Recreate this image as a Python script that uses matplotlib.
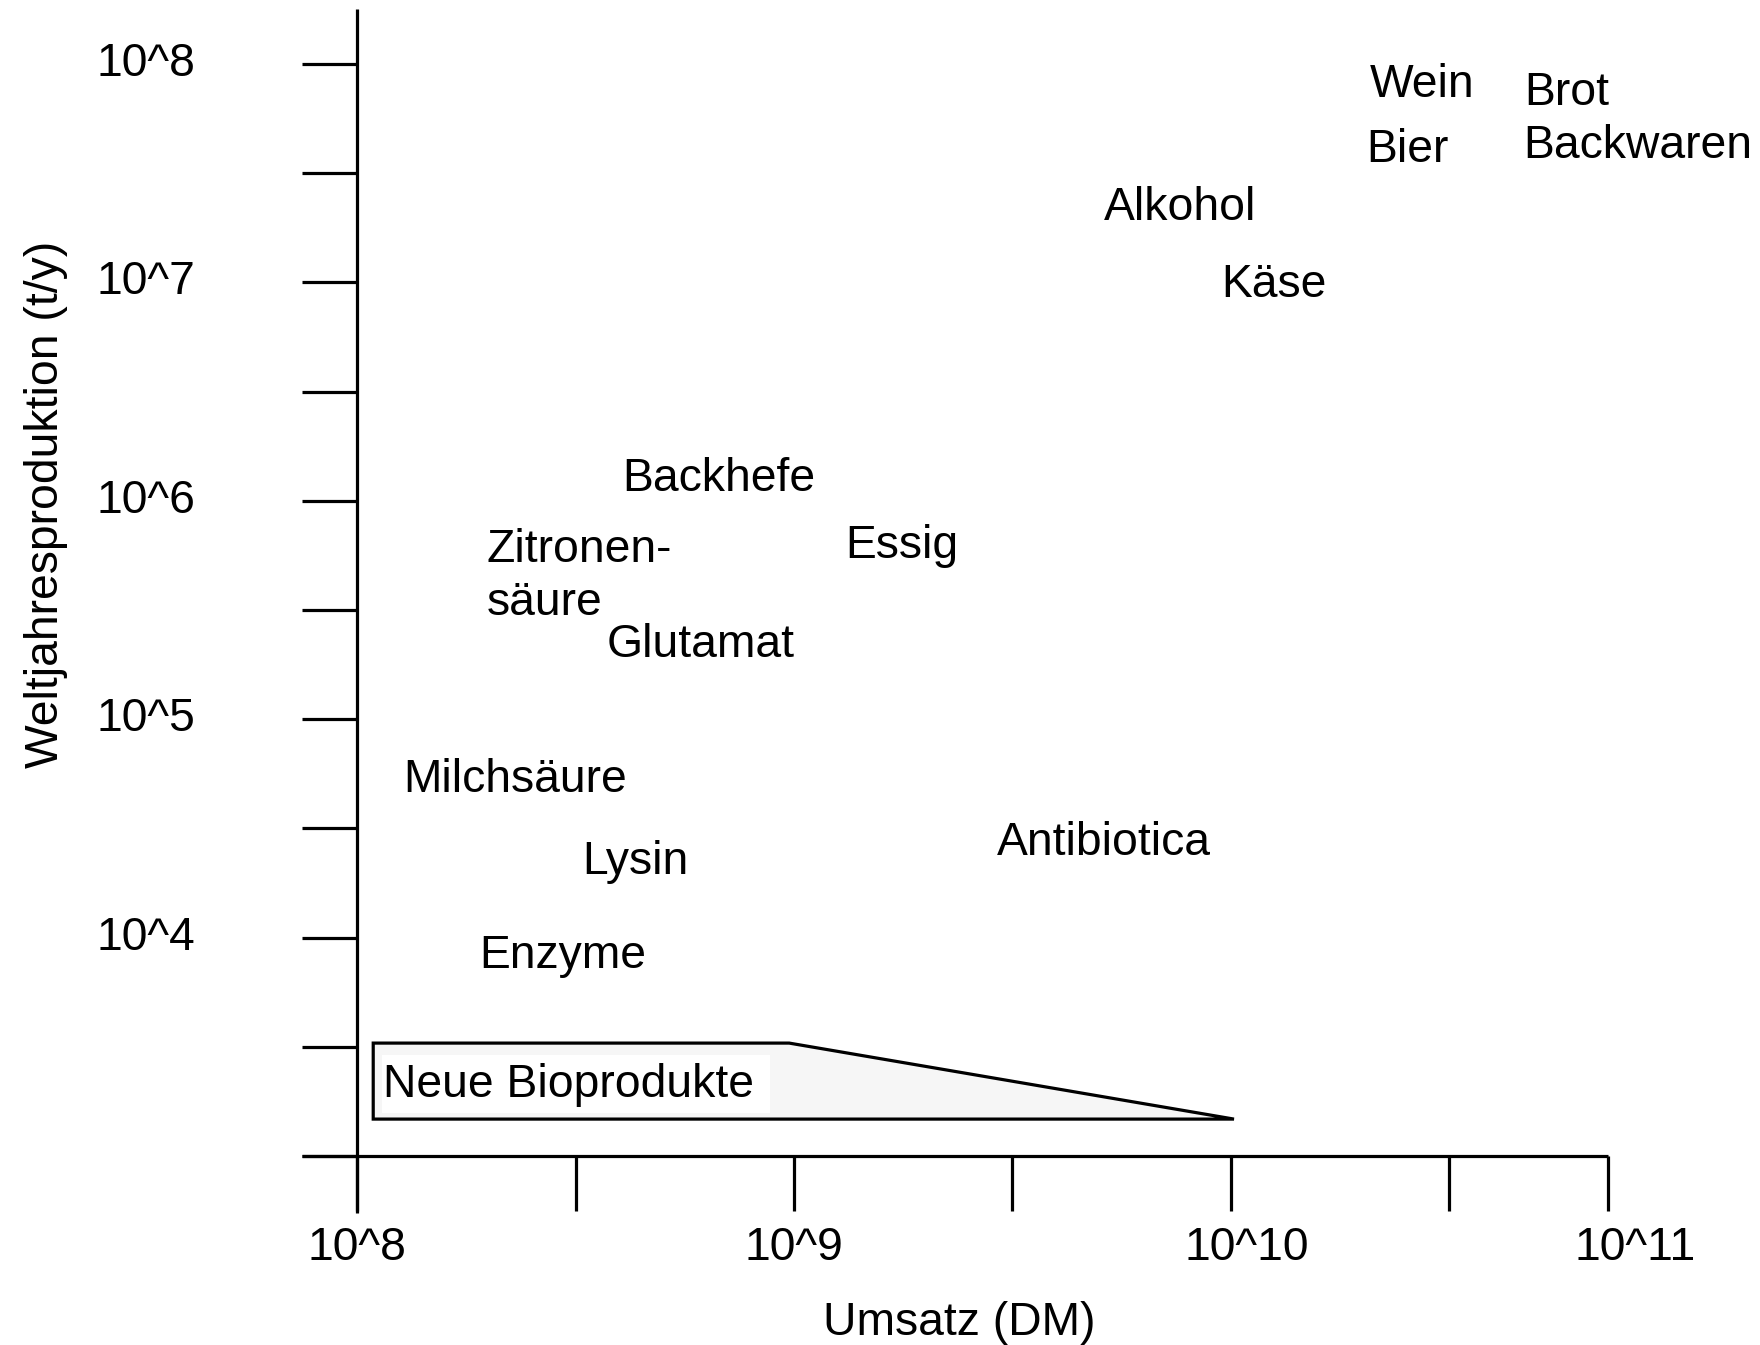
import matplotlib
matplotlib.use("Agg")
import matplotlib.pyplot as plt
from matplotlib.transforms import ScaledTranslation
import numpy as np

plt.rcParams['font.family'] = ['Liberation Sans', 'DejaVu Sans']

# ---- data (log10 values) ----
labels = ["Wein", "Bier", "Brot", "Backwaren", "Alkohol", "Käse", "Backhefe",
          "Zitronen-", "säure", "Essig", "Glutamat", "Milchsäure", "Antibiotica",
          "Lysin", "Enzyme"]
umsatz_log = [10.317, 10.309, 10.672, 10.670, 9.709, 9.977, 8.606,
              8.297, 8.297, 9.117, 8.571, 8.106, 9.465, 8.516, 8.280]
produktion_log = [7.850, 7.553, 7.812, 7.568, 7.286, 6.935, 6.046,
                  5.721, 5.477, 5.737, 5.286, 4.665, 4.378, 4.290, 3.862]

bio_label = "Neue Bioprodukte"
bio_label_umsatz_log = 8.060
bio_label_prod_log = 3.269
bio_umsatz_log = [8.037, 8.989, 10.007, 8.037]
bio_prod_log = [3.517, 3.517, 3.169, 3.169]
bio_box_umsatz_log = [8.057, 8.944, 8.944, 8.057]
bio_box_prod_log = [3.462, 3.462, 3.197, 3.197]

x_tick_log = [8, 8.5, 9, 9.5, 10, 10.5, 10.863]
x_tick_labels = ["10^8", "", "10^9", "", "10^10", "", "10^11"]
x_label_shift_px = [0, 0, 0, 0, 16, 0, 27]
y_tick_log = [3, 3.5, 4, 4.5, 5, 5.5, 6, 6.5, 7, 7.5, 8]
y_tick_labels = ["", "", "10^4", "", "10^5", "", "10^6", "", "10^7", "", "10^8"]

x_limits_log = (7.874, 10.863)
y_limits_log = (2.739, 8.252)

# ---- figure ----
W, H, DPI = 1760, 1345, 100
fig = plt.figure(figsize=(W / DPI, H / DPI), dpi=DPI)
ax = fig.add_axes([302 / W, 1 - 1213 / H, (1608 - 302) / W, (1213 - 9) / H])
ax.set_xscale('log')
ax.set_yscale('log')
ax.set_xlim(10 ** x_limits_log[0], 10 ** x_limits_log[1])
ax.set_ylim(10 ** y_limits_log[0], 10 ** y_limits_log[1])
ax.patch.set_visible(False)

lw = 2.3
for s in ['top', 'right']:
    ax.spines[s].set_visible(False)
ax.spines['left'].set_position(('data', 1e8))
ax.spines['bottom'].set_position(('data', 1e3))
for s in ['left', 'bottom']:
    ax.spines[s].set_linewidth(lw)
    ax.spines[s].set_capstyle('butt')

FS = 33.3
ax.xaxis.set_minor_locator(matplotlib.ticker.NullLocator())
ax.yaxis.set_minor_locator(matplotlib.ticker.NullLocator())
ax.set_xticks([10 ** v for v in x_tick_log], x_tick_labels)
ax.set_yticks([10 ** v for v in y_tick_log], y_tick_labels)
ax.tick_params(axis='both', direction='out', length=55 * 72 / DPI, width=lw,
               labelsize=FS, color='black')
ax.tick_params(axis='x', pad=15 * 72 / DPI)
ax.tick_params(axis='y', pad=107 * 72 / DPI)

for lab, dx in zip(ax.get_xticklabels(), x_label_shift_px):
    if dx:
        lab.set_transform(lab.get_transform() + ScaledTranslation(dx / DPI, 0, fig.dpi_scale_trans))
for lab in ax.get_yticklabels():
    lab.set_transform(lab.get_transform() + ScaledTranslation(0, 5 / DPI, fig.dpi_scale_trans))

# Neue Bioprodukte shape
ax.fill([10 ** v for v in bio_umsatz_log], [10 ** v for v in bio_prod_log],
        facecolor='#f6f6f6', edgecolor='black', linewidth=lw, joinstyle='miter', zorder=2)
ax.fill([10 ** v for v in bio_box_umsatz_log], [10 ** v for v in bio_box_prod_log],
        facecolor='white', edgecolor='none', zorder=3)
ax.text(10 ** bio_label_umsatz_log, 10 ** bio_label_prod_log, bio_label,
        fontsize=FS, ha='left', va='baseline', zorder=4)

# product labels
for name, xv, yv in zip(labels, umsatz_log, produktion_log):
    ax.text(10 ** xv, 10 ** yv, name, fontsize=FS, ha='left', va='baseline')

# axis labels
ax.set_xlabel("Umsatz (DM)", fontsize=FS)
ax.xaxis.label.set_va('baseline')
ax.xaxis.set_label_coords((959 - 302) / 1306, (1213 - 1335) / 1204)
ax.set_ylabel("Weltjahresproduktion (t/y)", fontsize=FS)
ax.yaxis.label.set_va('top')
ax.yaxis.set_label_coords((24 - 302) / 1306, (1213 - 504) / 1204)

fig.savefig("out.png", dpi=DPI)
